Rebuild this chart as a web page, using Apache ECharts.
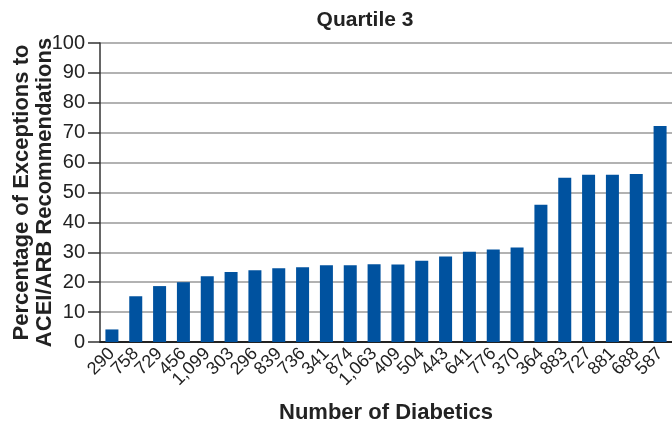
<!DOCTYPE html>
<html>
<head>
<meta charset="utf-8">
<script src="https://cdn.jsdelivr.net/npm/echarts@6/dist/echarts.min.js"></script>
<style>
  html, body { margin: 0; padding: 0; background: #fff; }
  #chart { width: 672px; height: 426px; }
</style>
</head>
<body>
<div id="chart"></div>
<script>
// number of diabetics per practice (x labels)
var categories = ["290", "758", "729", "456", "1,099", "303", "296", "839", "736", "341", "874", "1,063",
  "409", "504", "443", "641", "776", "370", "364", "883", "727", "881", "688", "587"];
// percentage of exceptions
var values = [4.2, 15.3, 18.7, 20.0, 22.0, 23.4, 24.0, 24.7, 25.0, 25.7, 25.7, 26.0,
  25.9, 27.2, 28.6, 30.2, 30.9, 31.6, 45.9, 54.9, 55.9, 55.9, 56.2, 72.2];

var font = "'Liberation Sans', Arial, sans-serif";
var myChart = echarts.init(document.getElementById("chart"));

var option = {
  animation: false,
  title: {
    text: "Quartile 3",
    left: 360,
    top: 5,
    textAlign: "center",
    textStyle: { fontFamily: font, fontSize: 21, fontWeight: "bold", color: "#222" }
  },
  grid: { left: 100, right: 0, top: 43, bottom: 84, containLabel: false, outerBoundsMode: "none" },
  xAxis: {
    type: "category",
    data: categories,
    name: "Number of Diabetics",
    nameLocation: "middle",
    nameGap: 60,
    nameTextStyle: { fontFamily: font, fontSize: 22, fontWeight: "bold", color: "#222" },
    axisLine: { lineStyle: { color: "#222", width: 2 } },
    axisTick: { show: false },
    axisLabel: {
      rotate: 45,
      interval: 0,
      margin: 9,
      fontFamily: font,
      fontSize: 18,
      color: "#222"
    }
  },
  yAxis: {
    type: "value",
    min: 0,
    max: 100,
    interval: 10,
    name: "Percentage of Exceptions to\nACEI/ARB Recommendations",
    nameLocation: "middle",
    nameGap: 44,
    nameMoveOverlap: false,
    nameTextStyle: { fontFamily: font, fontSize: 22, fontWeight: "bold", color: "#222", lineHeight: 23 },
    axisLine: { show: true, lineStyle: { color: "#333", width: 1.5 } },
    axisTick: { show: true, length: 12, lineStyle: { color: "#333", width: 1.5 } },
    axisLabel: { margin: 15, fontFamily: font, fontSize: 20, color: "#222" },
    splitLine: { lineStyle: { color: "#999", width: 1.5 } }
  },
  series: [
    {
      type: "bar",
      data: values,
      barWidth: 13,
      itemStyle: { color: "#00529f" }
    }
  ]
};

myChart.setOption(option);
</script>
</body>
</html>
